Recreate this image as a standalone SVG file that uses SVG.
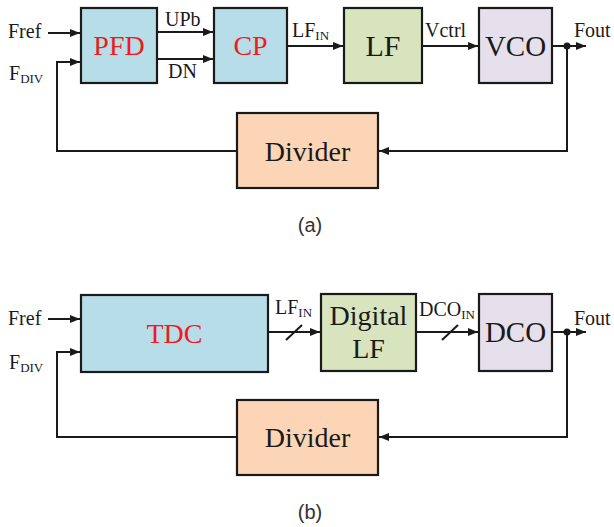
<svg xmlns="http://www.w3.org/2000/svg" width="614" height="527" viewBox="0 0 614 527">
<style>
.box{stroke:#1a1a1a;stroke-width:2.2}
.blue{fill:#b7dde8}.green{fill:#d7e4bd}.lav{fill:#e6e0ec}.peach{fill:#fbd5b5}
.w{fill:none;stroke:#1a1a1a;stroke-width:2}
.big{font-family:"Liberation Serif",serif;font-size:28px;text-anchor:middle;fill:#1a1a1a}
.red{fill:#ee1c1c}
.lbl{font-family:"Liberation Serif",serif;font-size:20px;fill:#1a1a1a}
.sub{font-size:13px}
.cap{font-family:"Liberation Sans",sans-serif;font-size:20px;fill:#333;text-anchor:middle}
</style>
<defs>
<marker id="ah" markerUnits="userSpaceOnUse" markerWidth="10" markerHeight="8" refX="10" refY="4" orient="auto">
<path d="M0,0 L10,4 L0,8 z" fill="#1a1a1a"/>
</marker>
</defs>
<!-- (a) -->
<g id="pfd"><rect class="box blue" x="81" y="8" width="76" height="75"/><text class="big red" x="119" y="55">PFD</text></g>
<g id="cp"><rect class="box blue" x="214" y="8" width="73" height="75"/><text class="big red" x="250.5" y="55">CP</text></g>
<g id="lf"><rect class="box green" x="344" y="8" width="78" height="75"/><text class="big" x="383" y="56" style="font-size:30px">LF</text></g>
<g id="vco"><rect class="box lav" x="479" y="8" width="73" height="75"/><text class="big" x="515.5" y="56" style="font-size:29px">VCO</text></g>
<g id="divider_a"><rect class="box peach" x="237" y="113" width="141" height="75"/><text class="big" x="307.5" y="161">Divider</text></g>
<g id="connectors_a">
<line class="w" x1="48" y1="33" x2="80" y2="33" marker-end="url(#ah)"/>
<polyline class="w" points="237,151 57,151 57,62 80,62" marker-end="url(#ah)"/>
<line class="w" x1="157" y1="32" x2="213" y2="32" marker-end="url(#ah)"/>
<line class="w" x1="157" y1="59" x2="213" y2="59" marker-end="url(#ah)"/>
<line class="w" x1="287" y1="46" x2="343" y2="46" marker-end="url(#ah)"/>
<line class="w" x1="422" y1="46" x2="478" y2="46" marker-end="url(#ah)"/>
<line class="w" x1="552" y1="46" x2="586" y2="46" marker-end="url(#ah)"/>
<polyline class="w" points="567,46 567,151 379,151" marker-end="url(#ah)"/>
<circle cx="567" cy="46" r="3.5" fill="#1a1a1a"/>
</g>
<g id="labels_a">
<text class="lbl" x="8" y="38">Fref</text>
<text class="lbl" x="9" y="80">F<tspan class="sub" dy="3">DIV</tspan></text>
<text class="lbl" x="165" y="26">UPb</text>
<text class="lbl" x="168" y="78">DN</text>
<text class="lbl" x="292" y="37">LF<tspan class="sub" dy="3">IN</tspan></text>
<text class="lbl" x="425" y="37">Vctrl</text>
<text class="lbl" x="574" y="37">Fout</text>
<text class="cap" x="310" y="232">(a)</text>
</g>
<!-- (b) -->
<g id="tdc"><rect class="box blue" x="81" y="295" width="187" height="77"/><text class="big red" x="174.5" y="343">TDC</text></g>
<g id="digital_lf"><rect class="box green" x="321" y="294" width="95" height="77"/><text class="big" x="368.5" y="325">Digital</text><text class="big" x="368.5" y="358">LF</text></g>
<g id="dco"><rect class="box lav" x="479" y="294" width="73" height="77"/><text class="big" x="515.5" y="342" style="font-size:29px">DCO</text></g>
<g id="divider_b"><rect class="box peach" x="237" y="400" width="141" height="75"/><text class="big" x="307.5" y="447">Divider</text></g>
<g id="connectors_b">
<line class="w" x1="48" y1="319" x2="80" y2="319" marker-end="url(#ah)"/>
<polyline class="w" points="237,437 57,437 57,352 80,352" marker-end="url(#ah)"/>
<line class="w" x1="268" y1="332" x2="320" y2="332" marker-end="url(#ah)"/>
<line class="w" x1="286" y1="340" x2="302" y2="325"/>
<line class="w" x1="416" y1="332" x2="478" y2="332" marker-end="url(#ah)"/>
<line class="w" x1="442" y1="340" x2="458" y2="325"/>
<line class="w" x1="552" y1="332" x2="586" y2="332" marker-end="url(#ah)"/>
<polyline class="w" points="567,332 567,437 379,437" marker-end="url(#ah)"/>
<circle cx="567" cy="332" r="3.5" fill="#1a1a1a"/>
</g>
<g id="labels_b">
<text class="lbl" x="8" y="325">Fref</text>
<text class="lbl" x="9" y="369">F<tspan class="sub" dy="3">DIV</tspan></text>
<text class="lbl" x="275" y="314">LF<tspan class="sub" dy="3">IN</tspan></text>
<text class="lbl" x="419" y="316">DCO<tspan class="sub" dy="3">IN</tspan></text>
<text class="lbl" x="574" y="325">Fout</text>
<text class="cap" x="310" y="519">(b)</text>
</g>
</svg>
